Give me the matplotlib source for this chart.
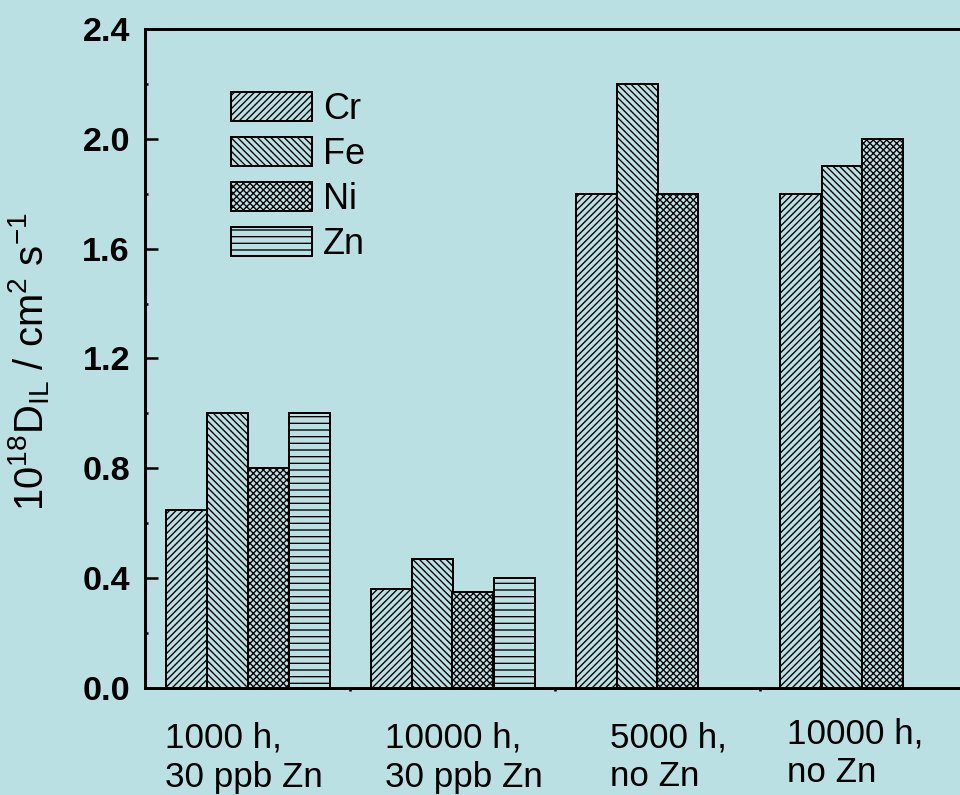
import matplotlib
matplotlib.use("Agg")
import matplotlib.pyplot as plt
import matplotlib.transforms as mtransforms
import numpy as np

# ---- data ----
groups = ["1000 h,\n30 ppb Zn", "10000 h,\n30 ppb Zn", "5000 h,\nno Zn", "10000 h,\nno Zn"]
elements = ["Cr", "Fe", "Ni", "Zn"]
cr = [0.65, 0.36, 1.80, 1.80]
fe = [1.00, 0.47, 2.20, 1.90]
ni = [0.80, 0.35, 1.80, 2.00]
zn = [1.00, 0.40, None, None]
series = [cr, fe, ni, zn]
yticks = [0.0, 0.4, 0.8, 1.2, 1.6, 2.0, 2.4]

# ---- style ----
BG = "#bae0e3"
hatches = ["//////", "\\" * 6, "xxxxxx", "---"]
plt.rcParams["font.family"] = ["Liberation Sans", "DejaVu Sans"]
plt.rcParams["mathtext.fontset"] = "custom"
plt.rcParams["mathtext.rm"] = "Liberation Sans"
plt.rcParams["mathtext.it"] = "Liberation Sans:italic"
plt.rcParams["mathtext.default"] = "regular"
plt.rcParams["hatch.linewidth"] = 0.8
plt.rcParams["hatch.color"] = "black"

DPI = 120
fig = plt.figure(figsize=(960 / DPI, 795 / DPI), dpi=DPI, facecolor=BG)
ax = fig.add_axes([145 / 960, (795 - 688) / 795, 820 / 960, 659 / 795])
ax.set_facecolor(BG)

bar_w = 0.2
start = 0.1
for k, (vals, h, lab) in enumerate(zip(series, hatches, elements)):
    xs = [i + start + k * bar_w for i, v in enumerate(vals) if v is not None]
    ys = [v for v in vals if v is not None]
    ax.bar(xs, ys, width=bar_w, align="edge", facecolor=BG, edgecolor="black",
           linewidth=1.2, hatch=h, label=lab)

ax.set_xlim(0, 4)
ax.set_ylim(0, 2.4)
ax.set_yticks(yticks)
ax.set_yticklabels([f"{t:.1f}" for t in yticks], fontsize=20.5, fontweight="bold")
ax.set_yticks(np.arange(0.2, 2.4, 0.4), minor=True)
ax.tick_params(axis="y", which="major", direction="in", length=7.8, width=1.5, pad=9)
ax.tick_params(axis="y", which="minor", direction="in", length=1.5, width=1.5)
ax.set_xticks([1, 2, 3])
ax.set_xticklabels([])
ax.tick_params(axis="x", which="major", direction="out", length=1.5, width=1.5)

for s in ["left", "bottom", "top"]:
    ax.spines[s].set_linewidth(1.8)
ax.spines["right"].set_visible(False)

# category labels, left aligned below each group
label_x = [0.098, 1.171, 2.268, 3.132]
label_dy = [0, 0, 0, 4]
trans = mtransforms.blended_transform_factory(ax.transData, ax.transAxes)
for gx, dy, txt in zip(label_x, label_dy, groups):
    ax.text(gx, (688 - 721 + dy) / 659, txt, transform=trans, ha="left", va="top",
            fontsize=21, linespacing=1.25)

fig.text(29 / 960, (795 - 362) / 795,
         r"10$^{18}$D$_{IL}$ / cm$^{2}$ s$^{-1}$",
         rotation=90, ha="center", va="center", fontsize=24)

fs_leg = 21.6
px = fs_leg * DPI / 72
ax.legend(loc="upper left", bbox_to_anchor=((231 - 145) / 820, (688 - 92) / 659),
          frameon=False, fontsize=fs_leg, handlelength=81 / px, handleheight=31 / px,
          labelspacing=0.28, handletextpad=11 / px, borderpad=0, borderaxespad=0)

fig.savefig("out.png", dpi=DPI, facecolor=BG)
